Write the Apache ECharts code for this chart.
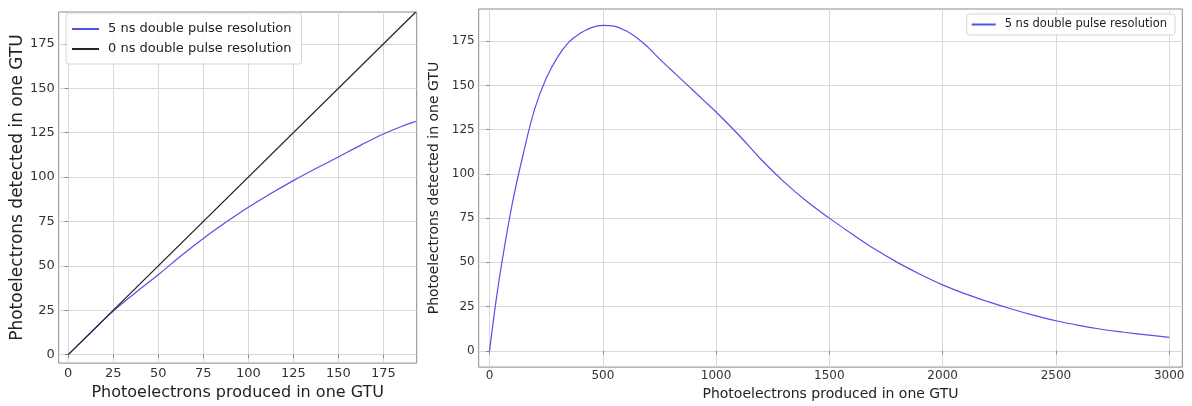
<!DOCTYPE html>
<html>
<head>
<meta charset="utf-8">
<script src="https://cdn.jsdelivr.net/npm/echarts@6/dist/echarts.min.js"></script>
<style>html,body{margin:0;padding:0;background:#fff}#c{width:1192px;height:406px}</style>
</head>
<body>
<div id="c"></div>
<script>
// ---- data ----
const seriesName5 = '5 ns double pulse resolution';
const seriesName0 = '0 ns double pulse resolution';
const leftX = [0, 12.5, 25, 37.5, 50, 62.5, 75, 87.5, 100, 112.5, 125, 137.5, 150, 162.5, 175, 185, 193];
const leftBlue = [0, 12.3, 24.5, 35, 45, 55.5, 65.4, 74.5, 83, 90.7, 98, 104.8, 111.3, 118, 124.3, 128.5, 131.4];
const leftBlackX = [0, 193];
const leftBlack = [0, 193];
const rightX = [0, 25, 50, 100, 150, 200, 250, 300, 350, 400, 450, 500, 550, 600, 650, 700, 750, 800, 850, 900, 950, 1000, 1100, 1200, 1300, 1400, 1500, 1600, 1700, 1800, 1900, 2000, 2100, 2200, 2300, 2400, 2500, 2600, 2700, 2800, 2900, 3000];
const rightBlue = [0, 25, 46.5, 83, 112, 137, 154, 166, 174.5, 179.5, 182.7, 184, 183.5, 181, 177, 171.5, 165, 159, 153, 147, 141, 135, 122, 108, 95.5, 84.5, 75, 66, 57.5, 50, 43.3, 37.3, 32.2, 27.8, 23.8, 20.2, 17, 14.4, 12.2, 10.5, 9, 7.6];
const leftTicks = [0, 25, 50, 75, 100, 125, 150, 175];
const rightXTicks = [0, 500, 1000, 1500, 2000, 2500, 3000];
const rightYTicks = [0, 25, 50, 75, 100, 125, 150, 175];
const xLabel = 'Photoelectrons produced in one GTU';
const yLabel = 'Photoelectrons detected in one GTU';

const zip = (xs, ys) => xs.map((x, i) => [x, ys[i]]);
const FONT = 'DejaVu Sans';
const BLUE = '#5550e8';
const gridLine = { show: true, lineStyle: { color: '#d9d9d9', width: 1 } };
const tick = (vals) => ({ show: true, length: 3.5, lineStyle: { color: '#888' }, customValues: vals });
const plain = (v) => String(v);

function xAxis(gi, min, max, vals, fs, nfs, margin, gap) {
  return {
    type: 'value', gridIndex: gi, min: min, max: max,
    axisLine: { show: false }, axisTick: tick(vals), splitLine: gridLine,
    axisLabel: { customValues: vals, formatter: plain, fontFamily: FONT, fontSize: fs, color: '#333', margin: margin },
    name: xLabel, nameLocation: 'middle', nameGap: gap,
    nameTextStyle: { fontFamily: FONT, fontSize: nfs, color: '#222' }
  };
}
function yAxis(gi, min, max, vals, fs, nfs, margin, gap) {
  return {
    type: 'value', gridIndex: gi, min: min, max: max,
    axisLine: { show: false }, axisTick: tick(vals), splitLine: gridLine,
    axisLabel: { customValues: vals, formatter: plain, fontFamily: FONT, fontSize: fs, color: '#333', margin: margin },
    name: yLabel, nameLocation: 'middle', nameGap: gap, nameRotate: 90,
    nameTextStyle: { fontFamily: FONT, fontSize: nfs, color: '#222' }
  };
}

const chart = echarts.init(document.getElementById('c'), null, { renderer: 'canvas' });
chart.setOption({
  animation: false,
  backgroundColor: '#fff',
  grid: [
    { left: 58.7, right: 1192 - 416.7, top: 12, bottom: 406 - 367.7, show: true, borderColor: '#8a8a8a', borderWidth: 1, backgroundColor: 'transparent' },
    { left: 478.7, right: 1192 - 1182.3, top: 9, bottom: 406 - 371, show: true, borderColor: '#8a8a8a', borderWidth: 1, backgroundColor: 'transparent' }
  ],
  xAxis: [
    xAxis(0, -5.3, 193.5, leftTicks, 13, 16, 4, 18),
    xAxis(1, -48, 3058, rightXTicks, 12, 14, 3, 17)
  ],
  yAxis: [
    yAxis(0, -4.8, 193, leftTicks, 13, 17, 4, 33),
    yAxis(1, -9.2, 193.2, rightYTicks, 12, 14, 4, 29)
  ],
  legend: [
    {
      data: [seriesName5, seriesName0], orient: 'vertical', left: 66, top: 13,
      padding: [9, 10, 8, 6], itemGap: 6, itemWidth: 27, itemHeight: 2, icon: 'rect',
      backgroundColor: 'rgba(255,255,255,0.85)', borderColor: '#d6d6d6', borderWidth: 1, borderRadius: 3,
      textStyle: { fontFamily: FONT, fontSize: 13, color: '#222', lineHeight: 14, padding: [0, 0, 0, 4] }
    },
    {
      data: [seriesName5], orient: 'vertical', right: 1192 - 1175, top: 14,
      padding: [4, 8, 4, 5], itemWidth: 24, itemHeight: 2, icon: 'rect',
      backgroundColor: 'rgba(255,255,255,0.85)', borderColor: '#d6d6d6', borderWidth: 1, borderRadius: 3,
      textStyle: { fontFamily: FONT, fontSize: 11.5, color: '#222', lineHeight: 13, padding: [0, 0, 0, 4] }
    }
  ],
  series: [
    { name: seriesName5, type: 'line', xAxisIndex: 0, yAxisIndex: 0, data: zip(leftX, leftBlue), showSymbol: false, smooth: 0.4, lineStyle: { color: BLUE, width: 1.2 }, itemStyle: { color: BLUE } },
    { name: seriesName0, type: 'line', xAxisIndex: 0, yAxisIndex: 0, data: zip(leftBlackX, leftBlack), showSymbol: false, lineStyle: { color: '#222', width: 1.2 }, itemStyle: { color: '#222' } },
    { name: seriesName5, type: 'line', xAxisIndex: 1, yAxisIndex: 1, data: zip(rightX, rightBlue), showSymbol: false, smooth: 0.4, lineStyle: { color: BLUE, width: 1.2 }, itemStyle: { color: BLUE } }
  ]
});
</script>
</body>
</html>
